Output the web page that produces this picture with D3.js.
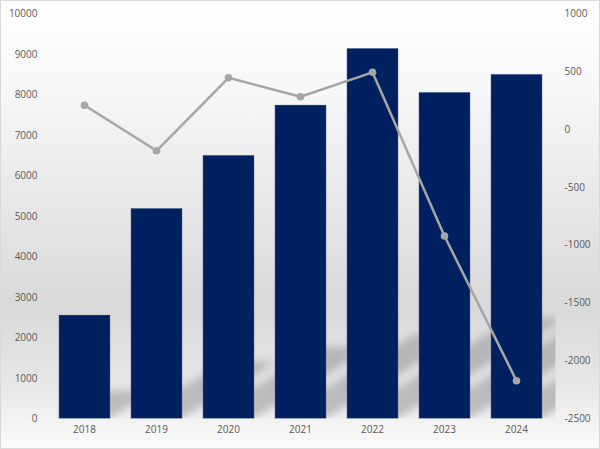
<!DOCTYPE html>
<html><head><meta charset="utf-8">
<script src="https://cdn.jsdelivr.net/npm/d3@7"></script>
<style>html,body{margin:0;padding:0;background:#fff;}svg{display:block;}</style>
</head><body>
<script>
const categories = ["2018","2019","2020","2021","2022","2023","2024"];
const barValues = [2550, 5185, 6495, 7735, 9135, 8050, 8495];
const lineValues = [205, -188, 443, 279, 490, -925, -2175];
const leftTicks = [0,1000,2000,3000,4000,5000,6000,7000,8000,9000,10000];
const rightTicks = [-2500,-2000,-1500,-1000,-500,0,500,1000];

const W = 600, H = 449;
const plot = {left: 48.5, right: 552.5, top: 13.3, bottom: 418.3};

const svg = d3.select("body").append("svg").attr("width", W).attr("height", H);
const defs = svg.append("defs");
const grad = defs.append("linearGradient").attr("id","bg").attr("x1",0).attr("y1",0).attr("x2",0).attr("y2",1);
grad.append("stop").attr("offset","0%").attr("stop-color","#ffffff");
grad.append("stop").attr("offset","20%").attr("stop-color","#f7f7f7");
grad.append("stop").attr("offset","68%").attr("stop-color","#d9d9d9");
grad.append("stop").attr("offset","85%").attr("stop-color","#e6e6e6");
grad.append("stop").attr("offset","100%").attr("stop-color","#fbfbfb");
const blur = defs.append("filter").attr("id","blur").attr("x","-20%").attr("y","-20%").attr("width","140%").attr("height","140%");
blur.append("feGaussianBlur").attr("stdDeviation",4);
defs.append("clipPath").attr("id","plotclip").append("rect")
  .attr("x",plot.left).attr("y",plot.top).attr("width",plot.right-plot.left+3).attr("height",plot.bottom-plot.top);

svg.append("rect").attr("x",0.5).attr("y",0.5).attr("width",W-1).attr("height",H-1)
  .attr("fill","url(#bg)").attr("stroke","#d9d9d9");

const x = d3.scaleBand().domain(categories).range([plot.left, plot.right]).paddingInner(0.29).paddingOuter(0.145);
const yL = d3.scaleLinear().domain([0,10000]).range([plot.bottom, plot.top]);
const yR = d3.scaleLinear().domain([-2500,1000]).range([plot.bottom, plot.top]);

// shadows
const sh = svg.append("g").attr("clip-path","url(#plotclip)");
sh.selectAll("path").data(categories).join("path")
  .attr("d",(c,i)=>{
    const x0 = x(c), x1 = x(c)+x.bandwidth(), y0 = yL(0);
    const h = y0 - yL(barValues[i]);
    const dx = 0.45*h, dy = 0.27*h;
    return `M${x0},${y0}L${x1},${y0}L${x1+dx},${y0-dy}L${x0+dx},${y0-dy}Z`;
  })
  .attr("fill","#8c8c8c").attr("opacity",0.5).attr("filter","url(#blur)");

// bars
svg.append("g").selectAll("rect").data(categories).join("rect")
  .attr("x",c=>x(c)).attr("width",x.bandwidth())
  .attr("y",(c,i)=>yL(barValues[i])).attr("height",(c,i)=>yL(0)-yL(barValues[i]))
  .attr("fill","#002060").attr("stroke","#7f8fb0").attr("stroke-width",0.6).attr("stroke-opacity",0.6);

// line
const line = d3.line().x((d,i)=>x(categories[i])+x.bandwidth()/2).y(d=>yR(d));
svg.append("path").datum(lineValues).attr("d",line)
  .attr("fill","none").attr("stroke","#a6a6a6").attr("stroke-width",2.5).attr("stroke-linejoin","round");
svg.append("g").selectAll("circle").data(lineValues).join("circle")
  .attr("cx",(d,i)=>x(categories[i])+x.bandwidth()/2).attr("cy",d=>yR(d)).attr("r",3.8)
  .attr("fill","#a6a6a6");

const font = "'Open Sans', 'Liberation Sans', sans-serif";
const axL = svg.append("g").attr("transform",`translate(${plot.left-11},0)`)
  .call(d3.axisLeft(yL).tickValues(leftTicks).tickSize(0).tickPadding(0).tickFormat(d3.format("d")));
const axR = svg.append("g").attr("transform",`translate(${plot.right+12},0)`)
  .call(d3.axisRight(yR).tickValues(rightTicks).tickSize(0).tickPadding(0).tickFormat(d3.format("d")));
const axB = svg.append("g").attr("transform",`translate(0,${plot.bottom+8})`)
  .call(d3.axisBottom(x).tickSize(0).tickPadding(0));
[axL,axR,axB].forEach(a=>{
  a.select(".domain").remove();
  a.selectAll("text").attr("font-family",font).attr("font-size","10px").attr("fill","#595959");
});
axR.selectAll("text").text(d=>d<0?"-"+Math.abs(d):d);
</script>
</body></html>
